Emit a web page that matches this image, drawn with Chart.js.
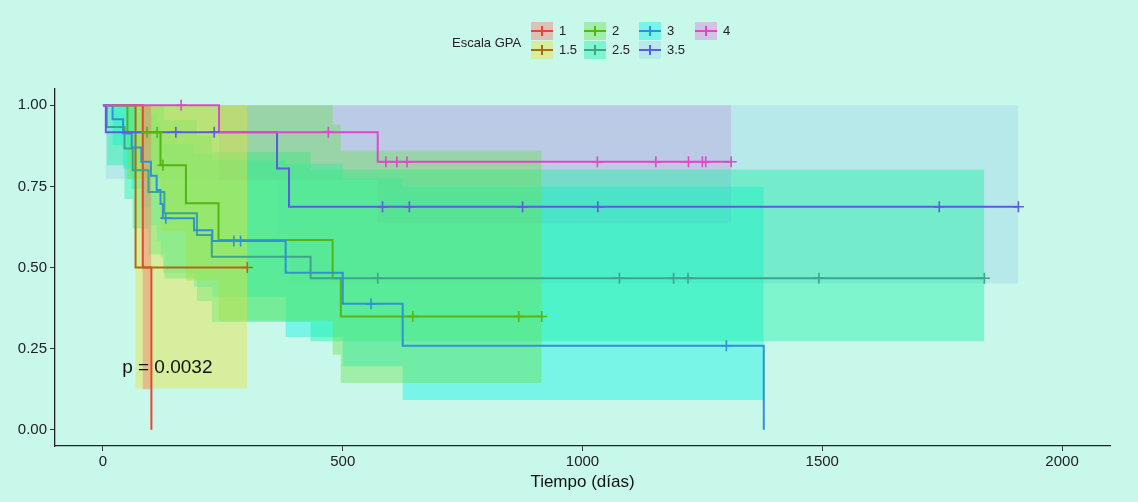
<!DOCTYPE html>
<html>
<head>
<meta charset="utf-8">
<script src="https://cdn.jsdelivr.net/npm/chart.js@4"></script>
<style>
  html, body { margin: 0; padding: 0; background: #c8f8ea; }
  #wrap { position: relative; width: 1138px; height: 502px; }
  #legend { position: absolute; left: 452px; top: 21px; font-family: "Liberation Sans", Arial, sans-serif; font-size: 13px; color: #222; }
  #legend .title { position: absolute; left: 0; top: 14px; white-space: nowrap; }
  #legend .keys { position: absolute; left: 79px; top: 0; display: grid; grid-template-columns: 53px 55px 56px auto; grid-auto-flow: column; grid-template-rows: 19px 19px; }
  .item { display: flex; align-items: center; white-space: nowrap; }
  .swatch { position: relative; width: 22px; height: 18px; margin-right: 6px; }
  .swatch .h { position: absolute; left: 0; right: 0; top: 8px; height: 2px; }
  .swatch .v { position: absolute; left: 10px; top: 4px; width: 2px; height: 10px; }
</style>
</head>
<body>
<div id="wrap">
  <canvas id="km"></canvas>
  <div id="legend"><div class="title">Escala GPA</div><div class="keys" id="keys"></div></div>
</div>
<script>
// Kaplan-Meier curves by GPA score

const groups = ['1', '1.5', '2', '2.5', '3', '3.5', '4'];

// group 1
const time1 = [0, 83, 101];
const surv1 = [1, 0.5, 0];
const upper1 = [1, 1, 1];
const lower1 = [1, 0.125, 0.125];
const cens1 = [];

// group 1.5
const time15 = [0, 68, 301];
const surv15 = [1, 0.5, 0.5];
const upper15 = [1, 1, 1];
const lower15 = [1, 0.128, 0.128];
const cens15 = [301];

// group 2
const time2 = [0, 51, 120, 173, 241, 479, 496, 915];
const surv2 = [1, 0.917, 0.815, 0.698, 0.585, 0.467, 0.349, 0.349];
const upper2 = [1, 1, 1, 1, 1, 0.94, 0.86, 0.86];
const lower2 = [1, 0.773, 0.612, 0.46, 0.336, 0.231, 0.144, 0.144];
const cens2 = [92, 113, 125, 646, 867, 915];

// group 2.5
const time25 = [0, 8, 45, 62, 95, 128, 196, 227, 433, 1838];
const surv25 = [1, 0.933, 0.867, 0.8, 0.733, 0.667, 0.6, 0.533, 0.467, 0.467];
const upper25 = [1, 1, 1, 1, 0.995, 0.954, 0.907, 0.856, 0.802, 0.802];
const lower25 = [1, 0.815, 0.711, 0.621, 0.54, 0.466, 0.397, 0.332, 0.273, 0.273];
const cens25 = [573, 1077, 1190, 1220, 1493, 1838];

// group 3
const time3 = [0, 20, 42, 60, 80, 100, 112, 120, 125, 190, 228, 381, 500, 625, 1378];
const surv3 = [1, 0.957, 0.913, 0.87, 0.826, 0.783, 0.739, 0.696, 0.652, 0.615, 0.582, 0.484, 0.388, 0.259, 0];
const upper3 = [1, 1, 1, 1, 0.996, 0.971, 0.942, 0.912, 0.879, 0.85, 0.83, 0.82, 0.775, 0.749, 0.749];
const lower3 = [1, 0.877, 0.805, 0.743, 0.685, 0.631, 0.58, 0.531, 0.484, 0.44, 0.41, 0.286, 0.196, 0.092, 0.092];
const cens3 = [131, 273, 287, 559, 1300];

// group 3.5
const time35 = [0, 6, 363, 388, 1909];
const surv35 = [1, 0.917, 0.805, 0.687, 0.687];
const upper35 = [1, 1, 1, 1, 1];
const lower35 = [1, 0.773, 0.604, 0.451, 0.451];
const cens35 = [152, 232, 583, 639, 875, 1032, 1744, 1909];

// group 4
const time4 = [0, 242, 573, 1310];
const surv4 = [1, 0.917, 0.826, 0.826];
const upper4 = [1, 1, 1, 1];
const lower4 = [1, 0.77, 0.636, 0.636];
const cens4 = [163, 470, 590, 613, 634, 1031, 1153, 1221, 1250, 1257, 1310];

const xTicks = [0, 500, 1000, 1500, 2000];
const yTicks = [0, 0.25, 0.5, 0.75, 1];
const xTitle = 'Tiempo (días)';
const legendTitle = 'Escala GPA';
const pvalText = 'p = 0.0032';

// colours
const lineColors = ['#e8472f', '#b06a10', '#55b515', '#3da68a', '#2d92d6', '#5c5ce0', '#de48c8'];
const bandColors = [
  'rgba(248,118,109,0.42)', 'rgba(233,224,53,0.42)', 'rgba(105,224,82,0.42)',
  'rgba(24,241,163,0.42)', 'rgba(10,241,224,0.42)', 'rgba(162,212,234,0.42)', 'rgba(217,124,220,0.42)'
];

const allTimes = [time1, time15, time2, time25, time3, time35, time4];
const allSurv = [surv1, surv15, surv2, surv25, surv3, surv35, surv4];
const allUpper = [upper1, upper15, upper2, upper25, upper3, upper35, upper4];
const allLower = [lower1, lower15, lower2, lower25, lower3, lower35, lower4];
const allCens = [cens1, cens15, cens2, cens25, cens3, cens35, cens4];

// survival value of a step curve at time t
function stepValue(t, ts, ss) {
  let v = ss[0];
  for (let i = 0; i < ts.length; i++) {
    if (ts[i] <= t) v = ss[i];
  }
  return v;
}

function toPoints(ts, vs) {
  return ts.map((t, i) => ({ x: t, y: vs[i] }));
}

const datasets = [];
groups.forEach((g, gi) => {
  const ts = allTimes[gi];
  // confidence band: upper filled down to lower
  datasets.push({
    label: g + ' upper',
    data: toPoints(ts, allUpper[gi]),
    stepped: true,
    borderWidth: 0,
    pointRadius: 0,
    backgroundColor: bandColors[gi],
    fill: '+1',
    order: 10
  });
  datasets.push({
    label: g + ' lower',
    data: toPoints(ts, allLower[gi]),
    stepped: true,
    borderWidth: 0,
    pointRadius: 0,
    fill: false,
    order: 10
  });
  datasets.push({
    label: g,
    data: toPoints(ts, allSurv[gi]),
    stepped: true,
    borderColor: lineColors[gi],
    borderWidth: 2,
    pointRadius: 0,
    fill: false,
    order: 5 - gi * 0.1
  });
  datasets.push({
    type: 'scatter',
    label: g + ' censored',
    data: allCens[gi].map(t => ({ x: t, y: stepValue(t, ts, allSurv[gi]) })),
    showLine: false,
    pointStyle: 'cross',
    pointRadius: 5.5,
    borderWidth: 1.6,
    borderColor: lineColors[gi],
    order: 1 - gi * 0.01
  });
});

// p-value annotation placed in data coordinates
const pvalLabel = {
  id: 'pvalLabel',
  afterDatasetsDraw(chart) {
    const ctx = chart.ctx;
    const x = chart.scales.x.getPixelForValue(40);
    const y = chart.scales.y.getPixelForValue(0.19);
    ctx.save();
    ctx.font = '19px "Liberation Sans", Arial, sans-serif';
    ctx.fillStyle = '#111';
    ctx.textAlign = 'left';
    ctx.textBaseline = 'middle';
    ctx.fillText(pvalText, x, y);
    ctx.restore();
  }
};

const tickFont = { family: '"Liberation Sans", Arial, sans-serif', size: 15 };

new Chart(document.getElementById('km'), {
  type: 'line',
  data: { datasets: datasets },
  options: {
    responsive: true,
    maintainAspectRatio: false,
    animation: false,
    layout: { padding: { top: 89, right: 28, left: 0, bottom: 0 } },
    plugins: {
      legend: { display: false },
      tooltip: { enabled: false }
    },
    scales: {
      x: {
        type: 'linear',
        min: -100,
        max: 2100,
        afterBuildTicks: scale => { scale.ticks = xTicks.map(v => ({ value: v })); },
        afterFit: scale => { scale.height = 56; },
        ticks: { font: tickFont, color: '#222', padding: 2, maxRotation: 0, callback: v => String(v) },
        grid: { drawOnChartArea: false, drawTicks: true, tickLength: 5, color: '#333' },
        border: { display: true, color: '#222', width: 1.3 },
        title: {
          display: true,
          text: xTitle,
          color: '#111',
          font: { family: '"Liberation Sans", Arial, sans-serif', size: 17 },
          padding: { top: 2, bottom: 9 }
        }
      },
      y: {
        type: 'linear',
        min: -0.05,
        max: 1.05,
        afterBuildTicks: scale => { scale.ticks = yTicks.map(v => ({ value: v })); },
        afterFit: scale => { scale.width = 55; },
        ticks: { font: tickFont, color: '#222', padding: 3, callback: v => v.toFixed(2) },
        grid: { drawOnChartArea: false, drawTicks: true, tickLength: 5, color: '#333' },
        border: { display: true, color: '#222', width: 1.3 }
      }
    }
  },
  plugins: [pvalLabel]
});

// legend laid out like ggplot: column by column, two rows
const keys = document.getElementById('keys');
document.querySelector('#legend .title').textContent = legendTitle;
groups.forEach((g, gi) => {
  const item = document.createElement('div');
  item.className = 'item';
  const sw = document.createElement('div');
  sw.className = 'swatch';
  sw.style.background = bandColors[gi];
  const h = document.createElement('div');
  h.className = 'h';
  h.style.background = lineColors[gi];
  const v = document.createElement('div');
  v.className = 'v';
  v.style.background = lineColors[gi];
  sw.appendChild(h);
  sw.appendChild(v);
  const lab = document.createElement('span');
  lab.textContent = g;
  item.appendChild(sw);
  item.appendChild(lab);
  keys.appendChild(item);
});
</script>
</body>
</html>
